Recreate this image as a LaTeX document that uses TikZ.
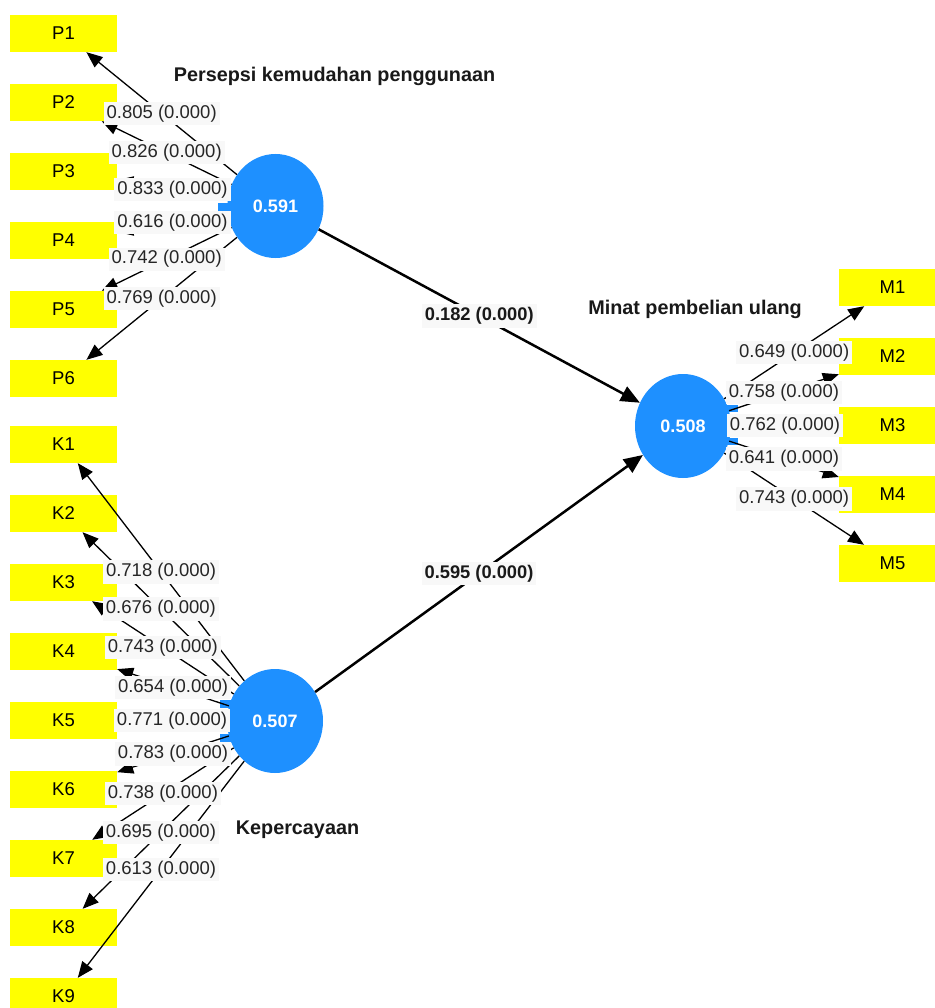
\documentclass[tikz,border=0pt]{standalone}
\usepackage{fontspec}
\setmainfont{Liberation Sans}
\usetikzlibrary{arrows.meta,shapes.geometric}
\definecolor{lvblue}{RGB}{30,144,255}
\definecolor{indyellow}{RGB}{255,255,0}
\definecolor{lblbg}{RGB}{248,248,248}
\pgfdeclarelayer{fg}
\pgfsetlayers{main,fg}
\begin{document}
\begin{tikzpicture}[x=1pt,y=-1pt,
  ind/.style={fill=indyellow, minimum width=107pt, minimum height=37pt, inner sep=0pt, font=\fontsize{18.5}{20}\selectfont},
  lv/.style={ellipse, fill=lvblue, minimum width=96pt, minimum height=104pt, inner sep=0pt, text=white, font=\bfseries\fontsize{18}{20}\selectfont},
  ld/.style={draw=black, line width=1.3pt, -{Triangle[length=16pt,width=13pt]}},
  pth/.style={draw=black, line width=2.5pt, -{Triangle[length=19pt,width=16pt]}},
  lbl/.style={fill=lblbg, inner xsep=3pt, inner ysep=3pt, text=black!85, font=\fontsize{18.5}{20}\selectfont},
  plbl/.style={lbl, text=black!90, font=\bfseries\fontsize{18.3}{20}\selectfont},
  ttl/.style={font=\bfseries\fontsize{19.8}{22}\selectfont, text=black!90}
]
\useasboundingbox (0,0) rectangle (934,1008);
\fill[white] (0,0) rectangle (934,1008);
% indicators
\foreach \i in {1,...,6} \node[ind] (P\i) at (63.5,{33.5+69*(\i-1)}) {P\i};
\foreach \i in {1,...,9} \node[ind] (K\i) at (63.5,{444.5+69*(\i-1)}) {K\i};
\foreach \i in {1,...,5} \node[ind] (M\i) at (892.5,{287.5+69*(\i-1)}) {M\i};
% notches
\fill[lvblue] (218,203) rectangle (232,212);
\fill[lvblue] (220,700) rectangle (232,708);
\fill[lvblue] (220,734) rectangle (232,742);
\fill[lvblue] (726,405) rectangle (738,412);
\fill[lvblue] (726,438) rectangle (738,445);
% latent variables
\node[lv] (PK) at (275.5,206) {0.591};
\node[lv] (KP) at (275,721) {0.507};
\node[lv] (MP) at (683,426) {0.508};
% titles
\node[ttl] (tP) at (334.5,76) {Persepsi kemudahan penggunaan};
\node[ttl] (tM) at (695,309) {Minat pembelian ulang};
\node[ttl] (tK) at (297.5,830) {Kepercayaan};
% loadings arrows
\foreach \i in {1,...,6} \draw[ld] (PK) -- (P\i);
\foreach \i in {1,...,9} \draw[ld] (KP) -- (K\i);
\foreach \i in {1,...,5} \draw[ld] (MP) -- (M\i);
% path arrows
\draw[pth] (PK) -- (MP);
\draw[pth] (KP) -- (MP);
\begin{pgfonlayer}{fg}
\foreach \i/\v in {1/0.805,2/0.826,3/0.833,4/0.616,5/0.742,6/0.769}
  \path (PK) -- node[lbl] {\v{} (0.000)} (P\i);
\foreach \i/\v in {1/0.718,2/0.676,3/0.743,4/0.654,5/0.771,6/0.783,7/0.738,8/0.695,9/0.613}
  \path (KP) -- node[lbl] {\v{} (0.000)} (K\i);
\foreach \i/\v in {1/0.649,2/0.758,3/0.762,4/0.641,5/0.743}
  \path (MP) -- node[lbl] {\v{} (0.000)} (M\i);
\path (PK) -- node[plbl] {0.182 (0.000)} (MP);
\path (KP) -- node[plbl] {0.595 (0.000)} (MP);
\end{pgfonlayer}
\end{tikzpicture}
\end{document}
